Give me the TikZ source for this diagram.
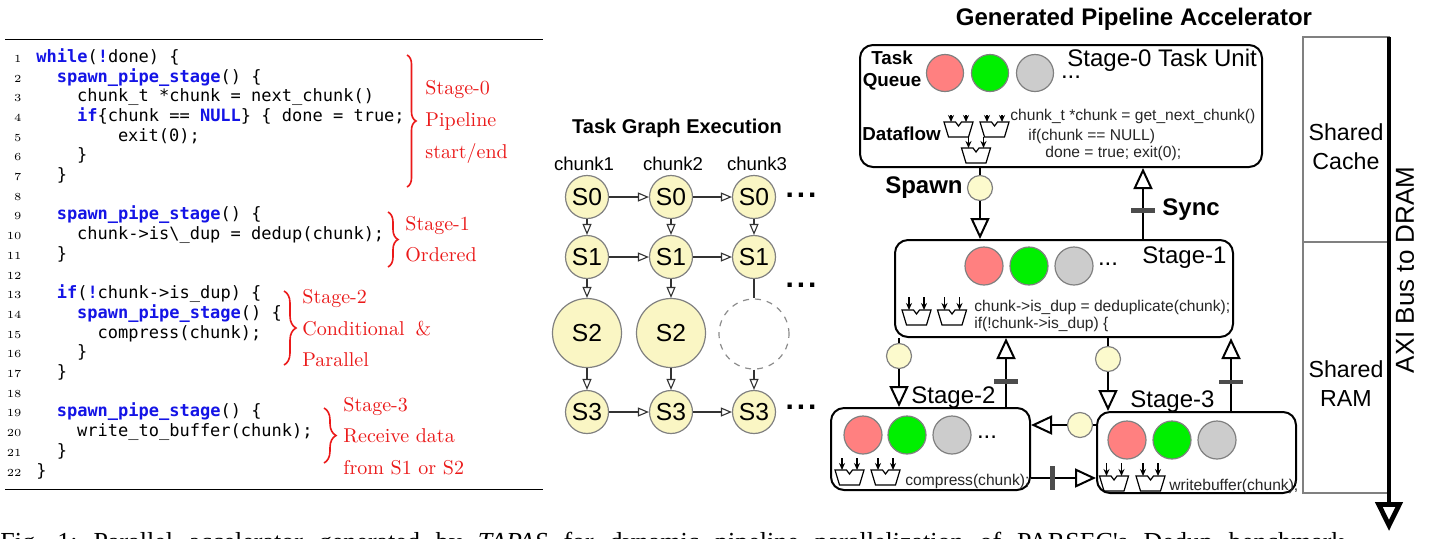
\documentclass[tikz,border=0pt]{standalone}
\usepackage{fontspec}
\newfontfamily\arial{Liberation Sans}
\newfontfamily\codefont{DejaVu Sans Mono}
\newfontfamily\capfont{Liberation Serif}
\usetikzlibrary{arrows.meta,decorations.pathreplacing}
\definecolor{kwblue}{RGB}{20,20,230}
\definecolor{annred}{RGB}{235,25,25}
\definecolor{tgfill}{RGB}{250,246,196}
\definecolor{spfill}{RGB}{252,250,205}
\definecolor{qred}{RGB}{255,128,128}
\definecolor{qgreen}{RGB}{0,240,0}
\definecolor{qgray}{RGB}{204,204,204}
\newcommand{\kw}[1]{{\bfseries\color{kwblue}#1}}
\tikzset{
  codeln/.style={anchor=base west, inner sep=0, font=\codefont\fontsize{8.5}{10}\selectfont},
  lnum/.style={anchor=base east, inner sep=0, font=\fontsize{5.4}{6}\selectfont},
  annot/.style={anchor=base west, inner sep=0, text=annred, font=\fontsize{10}{12}\selectfont},
  bracer/.style={decorate, decoration={brace, amplitude=#1}, draw=annred, line width=0.8pt},
  tgtitle/.style={anchor=base, inner sep=0, font=\arial\bfseries\fontsize{10}{12}\selectfont},
  bigtitle/.style={anchor=base, inner sep=0, font=\arial\bfseries\fontsize{12}{14}\selectfont},
  chunklbl/.style={anchor=base, inner sep=0, font=\arial\fontsize{9.3}{11}\selectfont},
  tgnode/.style={circle, draw=black!50, line width=0.6pt, fill=tgfill, minimum size=21.5pt, inner sep=0, font=\arial\fontsize{12.3}{14}\selectfont},
  tgbig/.style={tgnode, minimum size=34.5pt},
  tgempty/.style={circle, draw=black!45, dashed, line width=0.6pt, minimum size=35pt, inner sep=0},
  tgarr/.style={draw=black!80, line width=0.55pt, -{Triangle[open, fill=white, length=5.5pt, width=4.5pt]}},
  tgline/.style={draw=black!80, line width=0.55pt},
  tgdots/.style={anchor=base, inner sep=0, font=\arial\bfseries\fontsize{15}{16}\selectfont},
  stagebox/.style={draw=black, line width=1pt, rounded corners=6.5pt, inner sep=0},
  qcirc/.style={circle, draw=black!50, line width=0.6pt, minimum size=19pt, inner sep=0},
  qcircs/.style={qcirc, minimum size=18.5pt},
  qdots/.style={anchor=base, inner sep=0, font=\arial\fontsize{12}{14}\selectfont},
  spawnc/.style={circle, draw=black!50, line width=0.6pt, fill=spfill, minimum size=12.5pt, inner sep=0},
  conn/.style={draw=black, line width=1pt},
  connarr/.style={conn, -{Triangle[open, fill=white, length=10.5pt, width=9.5pt]}},
  syncbarh/.style={fill=black!70, minimum width=12pt, minimum height=2.2pt, inner sep=0},
  syncbarv/.style={fill=black!70, minimum width=2.2pt, minimum height=12pt, inner sep=0},
  stlbl/.style={anchor=base west, inner sep=0, font=\arial\fontsize{12}{14}\selectfont},
  boldlbl/.style={anchor=base, inner sep=0, font=\arial\bfseries\fontsize{9.4}{11}\selectfont},
  bigbold/.style={inner sep=0, font=\arial\bfseries\fontsize{12}{14}\selectfont},
  sc/.style={anchor=base west, inner sep=0, text=black!85, font=\arial\fontsize{7.8}{9}\selectfont},
  sharedbox/.style={draw=black!50, line width=0.6pt, inner sep=0},
  sharedlbl/.style={align=center, inner sep=0, font=\arial\fontsize{11.6}{14.5}\selectfont},
  pics/alu/.style={code={
    \draw[line width=0.6pt, line join=miter] (-14.5,0) -- (-3,0) -- (0,4) -- (3,0) -- (14.5,0) -- (10,15) -- (-10,15) -- cycle;
    \draw[line width=0.6pt, -{Stealth[length=3.5pt,width=3pt]}] (-7.5,-#1) -- (-7.5,0);
    \draw[line width=0.6pt, -{Stealth[length=3.5pt,width=3pt]}] (7.5,-#1) -- (7.5,0);
  }}
}
\begin{document}
\begin{tikzpicture}[x=0.5pt,y=-0.5pt]
\useasboundingbox (0,0) rectangle (1434,538);
\fill[white] (0,0) rectangle (1434,538);

% ---------- code listing ----------
\coordinate (rtl) at (5,39); \coordinate (rtr) at (543,39);
\coordinate (rbl) at (5,489.3); \coordinate (rbr) at (543,489.3);
\draw[line width=0.5pt] (rtl) -- (rtr);
\draw[line width=0.5pt] (rbl) -- (rbr);
\foreach \i in {1,...,22} {
  \pgfmathsetmacro\yy{62.3+(\i-1)*19.7}
  \node[lnum] (n\i) at (22,\yy) {\i};
}
\node[codeln] (c1) at (36,62.3) {\kw{while}(\kw{!}done) \{};
\node[codeln] (c2) at (56.4,82.0) {\kw{spawn\_pipe\_stage}() \{};
\node[codeln] (c3) at (76.8,101.7) {chunk\_t *chunk = next\_chunk()};
\node[codeln] (c4) at (76.8,121.4) {\kw{if}\{chunk == \kw{NULL}\} \{ done = true;};
\node[codeln] (c5) at (117.6,141.1) {exit(0);};
\node[codeln] (c6) at (76.8,160.8) {\}};
\node[codeln] (c7) at (56.4,180.5) {\}};
\node[codeln] (c9) at (56.4,219.9) {\kw{spawn\_pipe\_stage}() \{};
\node[codeln] (c10) at (76.8,239.6) {chunk->is\textbackslash\_dup = dedup(chunk);};
\node[codeln] (c11) at (56.4,259.3) {\}};
\node[codeln] (c13) at (56.4,298.7) {\kw{if}(\kw{!}chunk->is\_dup) \{};
\node[codeln] (c14) at (76.8,318.4) {\kw{spawn\_pipe\_stage}() \{};
\node[codeln] (c15) at (97.2,338.1) {compress(chunk);};
\node[codeln] (c16) at (76.8,357.8) {\}};
\node[codeln] (c17) at (56.4,377.5) {\}};
\node[codeln] (c19) at (56.4,416.9) {\kw{spawn\_pipe\_stage}() \{};
\node[codeln] (c20) at (76.8,436.6) {write\_to\_buffer(chunk);};
\node[codeln] (c21) at (56.4,456.3) {\}};
\node[codeln] (c22) at (36,476.0) {\}};

% annotations
\coordinate (b0t) at (407,55); \coordinate (b0b) at (407,187);
\coordinate (b1t) at (388,212); \coordinate (b1b) at (388,267);
\coordinate (b2t) at (284,291); \coordinate (b2b) at (284,365);
\coordinate (b3t) at (324,408); \coordinate (b3b) at (324,463);
\draw[bracer=4.5pt] (b0t) -- (b0b);
\draw[bracer=5pt] (b1t) -- (b1b);
\draw[bracer=6pt] (b2t) -- (b2b);
\draw[bracer=6pt] (b3t) -- (b3b);
\node[annot] (a0a) at (425,94.3) {Stage-0};
\node[annot] (a0b) at (425,126.7) {Pipeline};
\node[annot] (a0c) at (425,158.3) {start/end};
\node[annot] (a1a) at (405,230) {Stage-1};
\node[annot] (a1b) at (405,261.7) {Ordered};
\node[annot] (a2a) at (302,303.3) {Stage-2};
\node[annot] (a2b) at (302,335.7) {Conditional\hspace{5.5pt}\&};
\node[annot] (a2c) at (302,366) {Parallel};
\node[annot] (a3a) at (343,411.7) {Stage-3};
\node[annot] (a3b) at (343,442.3) {Receive data};
\node[annot] (a3c) at (343,474) {from S1 or S2};

% ---------- task graph ----------
\node[tgtitle] (tgt) at (677,133) {Task Graph Execution};
\node[chunklbl] (ch1) at (584,170) {chunk1};
\node[chunklbl] (ch2) at (673,170) {chunk2};
\node[chunklbl] (ch3) at (757,170) {chunk3};
\node[tgnode] (s01) at (587,197) {S0};
\node[tgnode] (s02) at (671,197) {S0};
\node[tgnode] (s03) at (754,197) {S0};
\node[tgnode] (s11) at (587,257) {S1};
\node[tgnode] (s12) at (671,257) {S1};
\node[tgnode] (s13) at (754,257) {S1};
\node[tgbig] (s21) at (587,333) {S2};
\node[tgbig] (s22) at (671,333) {S2};
\node[tgempty] (s23) at (754,334) {};
\node[tgnode] (s31) at (587,412) {S3};
\node[tgnode] (s32) at (671,412) {S3};
\node[tgnode] (s33) at (754,412) {S3};
\node[tgdots] (d1) at (801,197.5) {.\hspace{1.5pt}.\hspace{1.5pt}.};
\node[tgdots] (d2) at (801,287.5) {.\hspace{1.5pt}.\hspace{1.5pt}.};
\node[tgdots] (d3) at (801,409) {.\hspace{1.5pt}.\hspace{1.5pt}.};
\draw[tgarr] (s01) -- (s02); \draw[tgarr] (s02) -- (s03);
\draw[tgarr] (s11) -- (s12); \draw[tgarr] (s12) -- (s13);
\draw[tgarr] (s31) -- (s32); \draw[tgarr] (s32) -- (s33);
\draw[tgarr] (s01) -- (s11); \draw[tgarr] (s02) -- (s12); \draw[tgarr] (s03) -- (s13);
\draw[tgarr] (s11) -- (s21); \draw[tgarr] (s12) -- (s22); \draw[tgline] (s13) -- (s23);
\draw[tgarr] (s21) -- (s31); \draw[tgarr] (s22) -- (s32); \draw[tgarr] (s23) -- (s33);

% ---------- accelerator ----------
\node[bigtitle] (gpt) at (1134,25) {Generated Pipeline Accelerator};
\node[stagebox, minimum width=201pt, minimum height=61pt] (st0) at (1061,106) {};
\node[stagebox, minimum width=169pt, minimum height=48.5pt] (st1) at (1064,288.5) {};
\node[stagebox, minimum width=99.5pt, minimum height=41pt] (st2) at (930.5,449) {};
\node[stagebox, minimum width=99.5pt, minimum height=40.5pt] (st3) at (1196.5,452.5) {};

% stage 0 contents
\node[qcircs, fill=qred] (q01) at (945,73) {};
\node[qcircs, fill=qgreen] (q02) at (990,73) {};
\node[qcircs, fill=qgray] (q03) at (1035,73) {};
\node[qdots] (qd0) at (1071,78) {...};
\node[stlbl] (l0) at (1067,66) {Stage-0 Task Unit};
\node[boldlbl] (tq1) at (892,64) {Task};
\node[boldlbl] (tq2) at (892,86) {Queue};
\node[boldlbl, anchor=base west] (dfl) at (862,140) {Dataflow};
\pic at (958.5,122) {alu=7};
\pic at (994.5,122) {alu=7};
\pic at (976,148) {alu=11};
\node[sc] (sc01) at (1010,120) {chunk\_t *chunk = get\_next\_chunk()};
\node[sc] (sc02) at (1028,140) {if(chunk == NULL)};
\node[sc] (sc03) at (1045,157) {done = true; exit(0);};

% stage 1 contents
\node[qcirc, fill=qred] (q11) at (984,266) {};
\node[qcirc, fill=qgreen] (q12) at (1029,266) {};
\node[qcirc, fill=qgray] (q13) at (1074,266) {};
\node[qdots] (qd1) at (1108,265) {...};
\node[stlbl] (l1) at (1142,263) {Stage-1};
\pic at (916.5,310) {alu=13};
\pic at (952,310) {alu=13};
\node[sc] (sc11) at (974,311) {chunk->is\_dup = deduplicate(chunk);};
\node[sc] (sc12) at (974,328) {if(!chunk->is\_dup) \{};

% stage 2 contents
\node[qcirc, fill=qred] (q21) at (863,435) {};
\node[qcirc, fill=qgreen] (q22) at (907,435) {};
\node[qcirc, fill=qgray] (q23) at (952,435) {};
\node[qdots] (qd2) at (987,438.5) {...};
\node[stlbl] (l2) at (911,403) {Stage-2};
\pic at (849.5,470) {alu=12};
\pic at (885.5,470) {alu=12};
\node[sc] (sc21) at (905,485) {compress(chunk);};

% stage 3 contents
\node[qcirc, fill=qred] (q31) at (1127,440) {};
\node[qcirc, fill=qgreen] (q32) at (1172,440) {};
\node[qcirc, fill=qgray] (q33) at (1217,440) {};
\node[stlbl] (l3) at (1130,407) {Stage-3};
\pic at (1114,476) {alu=13};
\pic at (1150.5,476) {alu=13};
\node[sc] (sc31) at (1169,490) {writebuffer(chunk);};

% spawn / sync connectors
\node[spawnc] (sp0) at (980,188) {};
\node[spawnc] (sp1) at (899,356) {};
\node[spawnc] (sp2) at (1108,359) {};
\node[spawnc] (sp3) at (1080,425) {};
\node[bigbold, anchor=base east] (spl) at (963,193) {Spawn};
\node[bigbold, anchor=base west] (syl) at (1162,215) {Sync};
\coordinate (sy0) at (1143,200);
\coordinate (sy1) at (1006,380);
\coordinate (sy2) at (1231,380);
\coordinate (sy3) at (1060,478);

\draw[conn] (st0.south -| sp0) -- (sp0);
\draw[connarr] (sp0) -- (st1.north -| sp0);
\draw[connarr] (st1.north -| sy0) -- node[syncbarh, pos=0.4] (bar0) {} (st0.south -| sy0);

\draw[conn] (st1.south -| sp1) -- (sp1);
\draw[connarr] (sp1) -- (st2.north -| sp1);
\draw[conn] (st1.south -| sp2) -- (sp2);
\draw[connarr] (sp2) -- (st3.north -| sp2);
\draw[connarr] (st2.north -| sy1) -- node[syncbarh, pos=0.37] (bar1) {} (st1.south -| sy1);
\draw[connarr] (st3.north -| sy2) -- node[syncbarh, pos=0.4] (bar2) {} (st1.south -| sy2);
\draw[conn] (st3.west |- sp3) -- (sp3);
\draw[connarr] (sp3) -- (st2.east |- sp3);
\draw[connarr] (st2.east |- sy3) -- node[syncbarv, pos=0.33] (bar3) {} (st3.west |- sy3);

% shared memory + AXI bus
\node[sharedbox, minimum width=43pt, minimum height=102.5pt] (shc) at (1346,139.5) {};
\node[sharedbox, minimum width=43pt, minimum height=125.5pt] (shr) at (1346,367.5) {};
\node[sharedlbl] (shct) at (1346,146.5) {Shared\\Cache};
\node[sharedlbl] (shrt) at (1346,384) {Shared\\RAM};
\coordinate (axt) at (1389,37);
\coordinate (axb) at (1389,531);
\draw[line width=2.4pt, -{Triangle[open, fill=white, length=14.5pt, width=13.5pt]}] (axt) -- (axb);
\node[inner sep=0, rotate=90, font=\arial\fontsize{13}{15}\selectfont] (axi) at (1405,270) {AXI Bus to DRAM};

% caption (cut by the page edge, as in the reference)
\node[anchor=base west, inner sep=0, font=\capfont\fontsize{13}{15}\selectfont\frenchspacing] (cap) at (0,550) {\makebox[672pt][s]{Fig.~1: Parallel accelerator generated by \textit{TAPAS} for dynamic pipeline parallelization of PARSEC's Dedup benchmark}};
\end{tikzpicture}
\end{document}
